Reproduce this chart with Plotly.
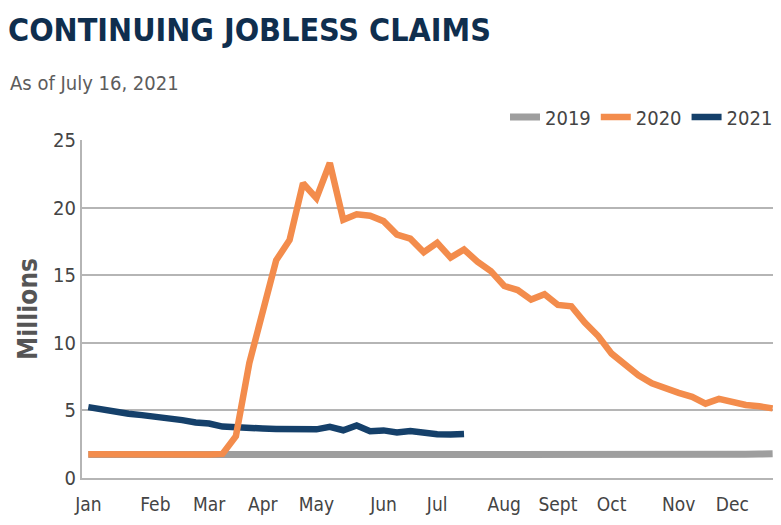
import plotly.graph_objects as go

# weekly continuing claims, millions (week 0 = first week of Jan)
weeks = list(range(52))
claims_2019 = [1.74, 1.74, 1.73, 1.73, 1.72, 1.72, 1.71, 1.71, 1.70, 1.70,
               1.69, 1.68, 1.67, 1.66, 1.66, 1.67, 1.67, 1.66, 1.67, 1.68,
               1.69, 1.68, 1.64, 1.63, 1.70, 1.70, 1.71, 1.70, 1.71, 1.72,
               1.70, 1.69, 1.68, 1.67, 1.67, 1.66, 1.67, 1.68, 1.68, 1.69,
               1.69, 1.69, 1.68, 1.69, 1.70, 1.70, 1.71, 1.72, 1.73, 1.75,
               1.77, 1.79]
claims_2020 = [1.76, 1.75, 1.74, 1.74, 1.73, 1.73, 1.74, 1.74, 1.73, 1.73,
               1.78, 3.1, 8.5, 12.4, 16.1, 17.6, 21.8, 20.7, 23.3, 19.1,
               19.5, 19.4, 19.0, 18.0, 17.7, 16.7, 17.4, 16.3, 16.9, 16.0,
               15.3, 14.2, 13.9, 13.2, 13.6, 12.8, 12.7, 11.5, 10.5, 9.2,
               8.4, 7.6, 7.0, 6.6, 6.3, 6.0, 5.5, 5.85, 5.6, 5.4,
               5.3, 5.15]
claims_2021 = [5.24, 5.04, 4.86, 4.75, 4.65, 4.55, 4.42, 4.28, 4.10, 4.03,
               3.80, 3.72, 3.70, 3.66, 3.63, 3.63, 3.65, 3.60, 3.78, 3.53,
               3.88, 3.46, 3.52, 3.36, 3.48, 3.30, 3.23, 3.22, 3.26]

month_weeks = [0, 5, 9, 13, 17, 22, 26, 31, 35, 39, 44, 48]
month_labels = ["Jan", "Feb", "Mar", "Apr", "May", "Jun", "Jul",
                "Aug", "Sept", "Oct", "Nov", "Dec"]
y_ticks = [0, 5, 10, 15, 20, 25]

FONT = "DejaVu Sans Condensed, Liberation Sans, sans-serif"

fig = go.Figure()
fig.add_trace(go.Scatter(x=weeks, y=claims_2019, name="2019", mode="lines",
                         line=dict(color="#9e9e9e", width=7), legendrank=1))
fig.add_trace(go.Scatter(x=weeks[:len(claims_2021)], y=claims_2021, name="2021",
                         mode="lines", line=dict(color="#15406a", width=6.5),
                         legendrank=3))
fig.add_trace(go.Scatter(x=weeks, y=claims_2020, name="2020", mode="lines",
                         line=dict(color="#f38c4c", width=6.5), legendrank=2))

# the page body adds an 8px offset, so the layout is shifted up/left by 8px
fig.update_layout(
    width=781, height=525,
    margin=dict(l=74, r=11, t=132, b=55),
    paper_bgcolor="white", plot_bgcolor="white",
    font=dict(family=FONT, color="#444444", size=19),
    title=dict(text="CONTINUING JOBLESS CLAIMS", x=0.0, xanchor="left",
               xref="container", yref="container", y=0.958, yanchor="middle",
               font=dict(family=FONT, size=32, color="#0f2e4e", weight="bold")),
    annotations=[dict(text="As of July 16, 2021", xref="paper", yref="paper",
                      x=-0.106, y=1.168, xanchor="left", yanchor="middle",
                      showarrow=False,
                      font=dict(family=FONT, size=20, color="#5c5c5c"))],
    legend=dict(orientation="h", x=1.0, xanchor="right", y=1.068,
                yanchor="middle", font=dict(size=20, color="#444444"),
                itemwidth=30, bgcolor="rgba(0,0,0,0)"),
    showlegend=True,
)
fig.update_xaxes(range=[-0.47, 51.4], tickvals=month_weeks, ticktext=month_labels,
                 showgrid=False, showline=True, linecolor="#b5b5b5", linewidth=2,
                 ticks="", zeroline=False, tickfont=dict(size=19),
                 ticklabelstandoff=8)
fig.update_yaxes(range=[0, 25], tickvals=y_ticks, showgrid=True,
                 gridcolor="#b5b5b5", gridwidth=2, showline=True,
                 linecolor="#b5b5b5", linewidth=2, zeroline=False, ticks="",
                 tickfont=dict(size=20),
                 title=dict(text="Millions", standoff=8,
                            font=dict(size=26, color="#555555", weight="bold")))

fig.write_html("out.html")
